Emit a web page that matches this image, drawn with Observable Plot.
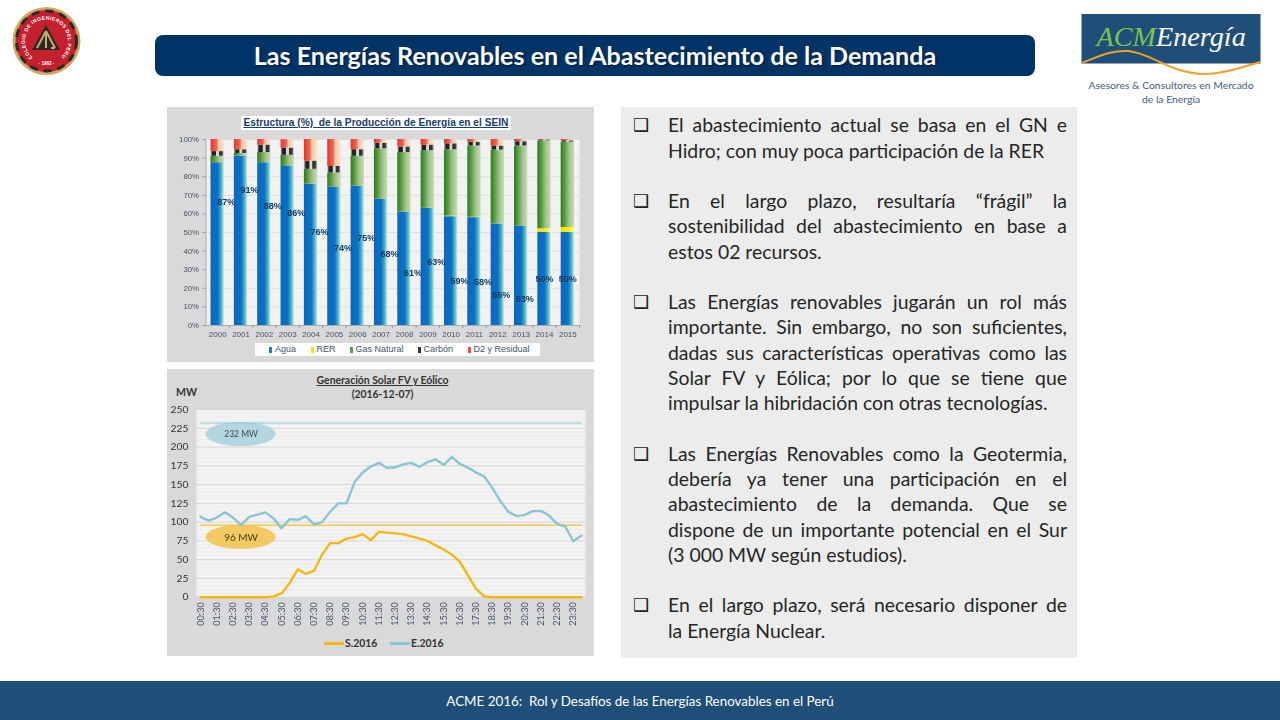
<!DOCTYPE html>
<html lang="es"><head><meta charset="utf-8">
<script src="https://cdn.jsdelivr.net/npm/d3@7"></script>
<script src="https://cdn.jsdelivr.net/npm/@observablehq/plot@0.6"></script>
<style>
html,body{margin:0;padding:0;background:#fff;width:1280px;height:720px;overflow:hidden}
.a{position:absolute;white-space:nowrap}
#bar{left:155px;top:35px;width:880px;height:41px;background:#003366;border-radius:8px;color:#fff;font:700 25.1px Lato,sans-serif;text-align:center;line-height:40.5px;text-shadow:1px 1px 2px #001a33}
#foot{left:0;top:681px;width:1280px;height:39px;background:#1f4e79;color:#fff;font:13.4px Lato,sans-serif;text-align:center;line-height:40px}
#textPanel{left:621px;top:107px;width:456px;height:551px;background:#ececec}
#body{left:668px;top:112.3px;width:399px;font:19.4px/25.28px Lato,sans-serif;color:#262626}
#body div{white-space:nowrap;height:25.28px}
#body .j{text-align:justify;text-align-last:justify;white-space:normal}
.chk{position:absolute;left:-35px;font:700 18px/25px "DejaVu Sans",sans-serif;color:#222}
.panel{background:#d9d9d9;filter:blur(.3px)}
.panel svg{position:absolute;left:0;top:0;background:transparent}
#t1{left:241px;top:116px;width:270px;height:14px;background:#fff;font:700 10.2px/14px "Liberation Sans",Arial,sans-serif;color:#17406d;text-align:center;text-decoration:underline}
#leg1{left:255px;top:343px;width:285px;height:13px;background:#fff}
.l1{font:9px/13px "Liberation Sans",Arial,sans-serif;color:#44546a;top:343px}
.sw{width:3px;height:6px;top:347px}
.t2{font:700 10.4px/14px Lato,sans-serif;color:#333;text-align:center;left:167px;width:431px}
.l2{font:700 10.4px/14px Lato,sans-serif;color:#333;top:636px}
.ln{height:2.5px;top:642px}
</style></head><body>
<div id="bar" class="a">Las Energías Renovables en el Abastecimiento de la Demanda</div>
<div id="foot" class="a">ACME 2016:&nbsp; Rol y Desafíos de las Energías Renovables en el Perú</div>

<svg class="a" style="left:0;top:0" width="100" height="90" viewBox="0 0 100 90">
  <circle cx="46.5" cy="41" r="34" fill="#c9a86a"/>
  <circle cx="46.5" cy="41" r="31" fill="#c5202e"/>
  <circle cx="46.5" cy="41" r="30" fill="none" stroke="#2b2a22" stroke-width="3" stroke-dasharray="8 6"/>
  <defs><path id="ring" d="M32.7 57.5 A21.5 21.5 0 1 1 60.3 57.5"/></defs>
  <text font-family="Liberation Sans" font-size="5" font-weight="700" fill="#fff"><textPath href="#ring" textLength="103">COLEGIO DE INGENIEROS DEL PERU</textPath></text>
  <text x="46.5" y="64.5" text-anchor="middle" font-family="Liberation Sans" font-size="4.6" font-weight="700" fill="#fff">· 1962 ·</text>
  <path d="M46 25 L60 50 L32 50 Z" fill="#2b2a22"/>
  <path d="M46 31 L37 48 M46 31 V48 M46 31 L55 48 M51 48 H55" stroke="#c9a86a" stroke-width="2" fill="none"/>
</svg>

<svg class="a" style="left:1070px;top:5px" width="200" height="110" viewBox="1070 5 200 110">
  <rect x="1081.5" y="14" width="179" height="49.5" fill="#1f4e79"/>
  <path d="M1081.5 63 C1100 56 1112 50 1128 51 C1152 53 1170 74 1205 74 C1225 74 1245 66 1260.5 62" fill="none" stroke="#f0a028" stroke-width="2"/>
  <text x="1096.5" y="46" font-family="Liberation Serif" font-style="italic" font-size="28.2"><tspan fill="#7cc44e">ACM</tspan><tspan fill="#fff">Energía</tspan></text>
  <text x="1171" y="89" text-anchor="middle" font-family="Lato" font-size="10.4" fill="#41607f">Asesores &amp; Consultores  en Mercado</text>
  <text x="1171" y="103" text-anchor="middle" font-family="Lato" font-size="10.4" fill="#41607f">de la Energía</text>
</svg>

<div id="p1" class="a panel" style="left:167px;top:107px;width:427px;height:255px"></div>
<div id="p2" class="a panel" style="left:167px;top:369px;width:427px;height:287px"></div>
<div id="t1" class="a">Estructura (%)&nbsp; de la Producción de Energía en el SEIN</div>
<div id="leg1" class="a"></div>

<div class="a t2" style="top:373px;text-decoration:underline">Generación Solar FV y Eólico</div>
<div class="a t2" style="top:387px">(2016-12-07)</div>
<div class="a l2" style="left:176px;top:385px;font-size:10.5px">MW</div>
<div class="a ln" style="left:324px;width:20px;background:#f5b717"></div><div class="a l2" style="left:345px">S.2016</div>
<div class="a ln" style="left:390px;width:20px;background:#8cc5d2"></div><div class="a l2" style="left:411px">E.2016</div>

<div id="textPanel" class="a"></div>
<div id="body" class="a"></div>

<script>
// ---- Chart 1: Estructura (%) de la Producción de Energía en el SEIN
const years = ["2000","2001","2002","2003","2004","2005","2006","2007","2008","2009","2010","2011","2012","2013","2014","2015"];
const agua   = [87.5,91,87.5,85.5,76,74.5,75,68,61,63,58.5,58,54.5,53.4,50,50];
const rer    = [0,0,0,0,0,0,0,0,0,0,0.3,0.2,0,0,2,2.7];
const gas    = [3.5,1.5,5.5,6,8,7.5,16,27,32,31,35.7,38.3,39.8,43.1,47.3,45.9];
const carbon = [2.5,2,4,3.9,4.4,3.5,3.5,3,3,3,3.2,2,2.2,2.3,0.5,0.7];
const d2     = [6.5,5.5,3,4.5,11.6,14.5,5.5,2,4,3,2.3,1.5,3.5,1.2,0.2,0.7];
const pctLabels = [87,91,88,86,76,74,75,68,61,63,59,58,55,53,50,50];
const pctLabelAt = [66.4,73,64,60.5,50,41.4,46.8,38.4,28,34,23.7,23.4,16.6,14.3,25,25];
const seriesNames = ["Agua","RER","Gas Natural","Carbón","D2 y Residual"];
const seriesVals = [agua,rer,gas,carbon,d2];
const pctTicks = [0,10,20,30,40,50,60,70,80,90,100];

// ---- Chart 2: Generación Solar FV y Eólico
const times = ["00:30","01:00","01:30","02:00","02:30","03:00","03:30","04:00","04:30","05:00","05:30","06:00","06:30","07:00","07:30","08:00","08:30","09:00","09:30","10:00","10:30","11:00","11:30","12:00","12:30","13:00","13:30","14:00","14:30","15:00","15:30","16:00","16:30","17:00","17:30","18:00","18:30","19:00","19:30","20:00","20:30","21:00","21:30","22:00","22:30","23:00","23:30","24:00"];
const solar = [0,0,0,0,0,0,0,0,0,1,5,19,37,31,35,57,72,72,78,80,84,76,87,86,85,84,81,78,75,69,63.5,57,47,29,11,1,0,0,0,0,0,0,0,0,0,0,0,0];
const eolico = [107,102,106,113,106,96,107,110,113,105,92,104,103,108,97,100,114,125,125,153,166,174,179,172,173,177,179,173.5,180,183.7,176,187,177.5,172.6,166,161,145.7,128,113.6,108,109.6,114.6,115,108.7,97.6,94,74.5,82];
const maxEolico = 232, maxSolar = 96;
const mwTicks = [0,25,50,75,100,125,150,175,200,225,250];
const mwMinor = [5,10,15,20,30,35,40,45,55,60,65,70,80,85,90,95,105,110,115,120,130,135,140,145,155,160,165,170,180,185,190,195,205,210,215,220,230,235,240,245];

// ---- Text
const bodyLines = [
 ["c","j","El abastecimiento actual se basa en el GN e"],["","","Hidro; con muy poca participación de la RER"],["","",""],
 ["c","j","En el largo plazo, resultaría “frágil” la"],["","j","sostenibilidad del abastecimiento en base a"],["","","estos 02 recursos."],["","",""],
 ["c","j","Las Energías renovables jugarán un rol más"],["","j","importante. Sin embargo, no son suficientes,"],["","j","dadas sus características operativas como las"],["","j","Solar FV y Eólica; por lo que se tiene que"],["","","impulsar la hibridación con otras tecnologías."],["","",""],
 ["c","j","Las Energías Renovables como la Geotermia,"],["","j","debería ya tener una participación en el"],["","j","abastecimiento de la demanda. Que se"],["","j","dispone de un importante potencial en el Sur"],["","","(3 000 MW según estudios)."],["","",""],
 ["c","j","En el largo plazo, será necesario disponer de"],["","","la Energía Nuclear."]
];
const bodyEl = document.getElementById("body");
for (const [c,j,t] of bodyLines){
  const d = document.createElement("div"); d.style.position="relative";
  if (j) d.className="j";
  d.textContent = t;
  if (c){ const s=document.createElement("span"); s.className="chk"; s.textContent="❑"; d.prepend(s); }
  bodyEl.append(d);
}

// ---- Gradients
const grads = {
  gAgua:[["0","#0a68bd"],["0.55","#0b72c4"],["0.8","#4fb0c8"],["1","#c2eedd"]],
  gRer:[["0","#e8e000"],["0.6","#f6ee10"],["1","#fbf6a0"]],
  gGas:[["0","#2a7a1e"],["0.3","#5a9c45"],["0.6","#9cbf86"],["1","#c8dcb6"]],
  gCar:[["0","#d0d0d0"],["0.15","#222"],["0.38","#222"],["0.45","#d8d8d8"],["0.6","#d8d8d8"],["0.66","#333"],["0.85","#333"],["1","#d8d8d8"]],
  gD2:[["0","#e5362b"],["0.45","#ea6a55"],["0.6","#f2c7a8"],["1","#f7e6cf"]]
};
function defsMark(){
  const defs = d3.create("svg:defs");
  for (const [id,stops] of Object.entries(grads)){
    const g = defs.append("linearGradient").attr("id",id);
    for (const [o,c] of stops) g.append("stop").attr("offset",o).attr("stop-color",c);
  }
  return defs.node();
}
const stacked = seriesNames.flatMap((s,i)=>years.map((y,k)=>({year:y,serie:s,value:seriesVals[i][k]})));
const labelRows = years.map((y,k)=>({year:y,text:pctLabels[k]+"%",at:pctLabelAt[k],k}));
const labelStyle = {x:"year",y:"at",text:"text",fontWeight:700,fontSize:9,fill:"#0f3a63"};
const step1 = (427-38.5-15)/16;

const c1 = Plot.plot({
  width:427,height:255,marginLeft:38.5,marginRight:15,marginTop:32,marginBottom:37,
  style:{fontFamily:"Liberation Sans, Arial, sans-serif",background:"transparent"},
  x:{type:"band",domain:years,paddingInner:0.43,paddingOuter:0.215,round:false,axis:null,label:null},
  y:{domain:[0,100],axis:null,label:null},
  color:{domain:seriesNames,range:["url(#gAgua)","url(#gRer)","url(#gGas)","url(#gCar)","url(#gD2)"]},
  marks:[
    defsMark,
    Plot.frame({fill:"#f2f2f2",stroke:null}),
    Plot.ruleY(pctTicks,{stroke:"#dfdfdf",strokeWidth:1}),
    Plot.barY(stacked,{x:"year",y:"value",fill:"serie"}),
    Plot.axisY({ticks:pctTicks,tickFormat:d=>d+"%",tickSize:3,tickPadding:4,fontSize:7.8,fill:"#44546a",stroke:"#999",label:null}),
    Plot.axisX({ticks:years,tickSize:0,tickPadding:6,fontSize:8,fill:"#44546a",label:null}),
    Plot.frame({anchor:"left",stroke:"#aaa"}),
    Plot.ruleY([0],{stroke:"#aaa"}),
    Plot.ruleX(years,{x:d=>d,y1:0,y2:-1.6,dx:step1/2,stroke:"#999"}),
    Plot.text(labelRows.filter(d=>d.k<12),{...labelStyle,dx:8.5}),
    Plot.text(labelRows.filter(d=>d.k>=12&&d.k<14),{...labelStyle,dx:3.5}),
    Plot.text(labelRows.filter(d=>d.k>=14),labelStyle)
  ]
});
document.getElementById("p1").append(c1);

function ellipseMark(time,value,fill){
  return (index,{x,y})=>d3.create("svg:ellipse")
    .attr("cx",x(time)).attr("cy",y(value)).attr("rx",35).attr("ry",12).attr("fill",fill).node();
}
const rows = times.map((t,i)=>({t,s:solar[i],e:eolico[i]}));
const c2 = Plot.plot({
  width:427,height:287,marginLeft:29,marginRight:9,marginTop:40,marginBottom:59.3,
  style:{fontFamily:"Lato, sans-serif",background:"transparent"},
  x:{type:"point",domain:times,padding:0.5,round:false,axis:null,label:null},
  y:{domain:[0,250],axis:null,label:null},
  marks:[
    Plot.frame({fill:"#f3f3f3",stroke:null}),
    Plot.ruleY(mwMinor,{stroke:"#ececec",strokeWidth:1}),
    Plot.ruleY(mwTicks,{stroke:"#d6d6d6",strokeWidth:1}),
    ellipseMark("03:00",216.6,"#b3d6e0"),
    ellipseMark("03:00",79.5,"#f3c963"),
    Plot.text(["232 MW"],{x:()=>"03:00",y:()=>216.6,text:d=>d,fontSize:8.5,fill:"#33505f"}),
    Plot.text(["96 MW"],{x:()=>"03:00",y:()=>79.5,text:d=>d,fontSize:10,fill:"#4a3c10"}),
    Plot.line(rows,{x:"t",y:()=>maxEolico,stroke:"#8cc5d2",strokeWidth:1.2}),
    Plot.line(rows,{x:"t",y:()=>maxSolar,stroke:"#f5c02a",strokeWidth:1.4}),
    Plot.line(rows,{x:"t",y:"e",stroke:"#8cc5d2",strokeWidth:2.4,curve:"linear"}),
    Plot.line(rows,{x:"t",y:"s",stroke:"#f5b717",strokeWidth:2.4,curve:"linear"}),
    Plot.axisY({ticks:mwTicks,tickSize:0,tickPadding:8,fontSize:10.3,fill:"#333",label:null}),
    Plot.axisX({ticks:times.filter((d,i)=>i%2===0),tickSize:0,tickPadding:5,tickRotate:-90,fontSize:9.2,fill:"#44546a",label:null})
  ]
});
document.getElementById("p2").append(c2);

// Legend chart 1
const legPos=[[268.5,275],[311,316.5],[349.5,355.5],[417.5,423.5],[467.5,473.5]];
const legCol=["#1a7cc8","#f0e020","#5d9c48","#333","#e5504a"];
seriesNames.forEach((s,i)=>{
  const a=document.createElement("div");a.className="a sw";a.style.left=legPos[i][0]+"px";a.style.background=legCol[i];document.body.append(a);
  const b=document.createElement("div");b.className="a l1";b.style.left=legPos[i][1]+"px";b.textContent=s;document.body.append(b);
});
</script>
</body></html>
